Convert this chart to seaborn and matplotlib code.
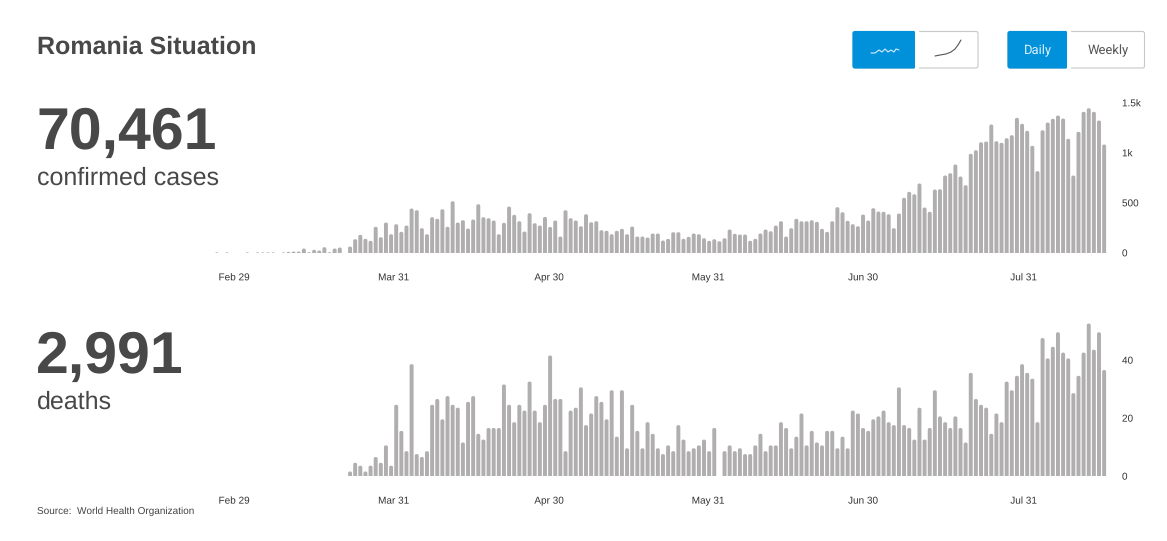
import numpy as np
import pandas as pd
import matplotlib
matplotlib.use('Agg')
import matplotlib.pyplot as plt
import matplotlib.patheffects as pe
from matplotlib.patches import FancyBboxPatch, Rectangle
import seaborn as sns

nan = float('nan')

# casos diarios, desde Feb 26
confirmed_cases = [1, nan, 1, nan, nan, nan, 1, nan, 1, 1, 1, 1, nan, 1, 7, 10, 10, 40, 3, 27, 20, 53, 3, 40, 50, nan,
                   60, 133, 177, 137, 117, 257, 153, 300, 183, 283, 207, 270, 440, 423, 243, 183, 353, 337,
                   433, 257, 513, 300, 323, 240, 330, 483, 353, 343, 320, 183, 297, 460, 377, 313, 210, 393,
                   293, 270, 356, 256, 320, 160, 423, 343, 320, 263, 383, 303, 313, 223, 217, 183, 217, 237,
                   183, 260, 160, 160, 150, 190, 190, 120, 137, 203, 203, 137, 157, 190, 183, 143, 117, 133,
                   113, 143, 230, 187, 180, 180, 117, 137, 190, 230, 213, 270, 313, 160, 243, 337, 313, 313,
                   323, 307, 237, 207, 313, 453, 403, 317, 283, 263,
                   380, 320, 443, 410, 407, 383, 243, 390, 547, 607, 583, 690, 450, 407, 630, 633, 770, 793,
                   880, 760, 673, 987, 1023, 1103, 1110, 1280, 1113, 1097, 1143, 1173, 1347, 1287, 1217, 1067,
                   813, 1223, 1300, 1337, 1370, 1340, 1137, 770, 1207, 1407, 1443, 1407, 1320, 1080]

deaths = [nan] * 26 + [2, 5, 4, 2, 4, 7, 5, 11, 4, 25, 16, 9, 39, 8, 7, 9, 25, 27, 20, 28, 25, 24, 12, 26, 28,
                       15, 13, 17, 17, 17, 32, 25, 19, 25, 23, 33, 23, 19, 25, 42, 27, 27, 9, 23, 24, 31, 18,
                       22, 28, 26, 20,
                       30, 14, 30, 10, 25, 16, 10, 19, 15, 10, 8, 11, 9, 18, 13, 9, 10, 11, 13, 9, 17, nan,
                       9, 11, 9, 10, 8, 8, 11, 15, 9, 11, 11, 19, 17, 10, 14, 22, 11, 16, 12, 11, 16, 16, 10,
                       14, 10, 23, 22,
                       17, 16, 20, 21, 23, 19, 18, 31, 18, 17, 13, 24, 13, 17, 30, 21, 19, 17, 21, 17, 12, 36,
                       27, 25, 24, 15, 22, 19, 33, 30, 35, 39, 36, 34, 19, 48, 41, 45, 50, 43, 41, 29, 35, 43,
                       53, 44, 50, 37]

date_labels = ['Feb 29', 'Mar 31', 'Apr 30', 'May 31', 'Jun 30', 'Jul 31']
date_ticks = [3.4, 34.5, 64.8, 95.8, 126, 157.3]

cases_ticks = [0, 500, 1000, 1500]
cases_tick_labels = ['0', '500', '1k', '1.5k']
deaths_ticks = [0, 20, 40]
deaths_tick_labels = ['0', '20', '40']

wave_x = [871, 875, 879, 882, 885, 888, 891, 894, 896, 899]
wave_y = [53, 53, 50, 52, 49, 52, 50, 52, 49, 50]
curve_x = [935, 940, 946, 951, 955, 958, 961]
curve_y = [56, 55, 54, 52, 49, 45, 40]

W, H = 1167, 541
BAR = '#b0aeae'
DARK = '#484848'
BLUE = '#0091da'

sns.set_theme(style='white')
plt.rcParams['font.family'] = ['Liberation Sans', 'DejaVu Sans']
plt.rcParams['text.hinting'] = 'no_hinting'
plt.rcParams['text.hinting_factor'] = 1

fig = plt.figure(figsize=(W / 100, H / 100), dpi=100, facecolor='white')


def px_axes(left, right, top, bottom):
    return fig.add_axes([left / W, 1 - bottom / H, (right - left) / W, (bottom - top) / H])


def bars(ax, values, ymax, floor, ticks, tick_labels):
    df = pd.DataFrame({'day': np.arange(len(values)), 'value': values})
    sns.barplot(data=df, x='day', y='value', color=BAR, saturation=1, width=0.2, ax=ax)
    for p in ax.patches:
        p.set_edgecolor(BAR)
        p.set_linewidth(2.1)
        p.set_joinstyle('round')
        p.set_snap(False)
    ax.set_xlim(-0.5, len(values) - 0.5)
    # los topes redondeados suben la barra, floor lo compensa
    ax.set_ylim(floor, ymax + floor)
    ax.set_xticks(date_ticks, date_labels)
    ax.set_yticks([])
    ax.set_xlabel('')
    ax.set_ylabel('')
    ax.patch.set_alpha(0)
    ax.tick_params(axis='x', length=0, pad=19.9, labelsize=7.2, labelcolor='#333333')
    for lbl in ax.get_xticklabels():
        lbl.set_verticalalignment('baseline')
        lbl.set_path_effects([pe.Normal()])  # como trazo, asi no saltan en vertical
    sns.despine(ax=ax, left=True, bottom=True, right=True, top=True)

    tw = ax.twinx()
    tw.set_ylim(0, ymax)
    tw.set_yticks(ticks, tick_labels)
    tw.grid(False)
    tw.tick_params(axis='y', length=0, pad=11, labelsize=7.2, labelcolor='#333333')
    for lbl in tw.get_yticklabels():
        lbl.set_path_effects([pe.Normal()])
    sns.despine(ax=tw, left=True, bottom=True, right=True, top=True)


ax1 = px_axes(214.1, 1106.7, 102.7, 252.7)
bars(ax1, confirmed_cases, 1500, 13, cases_ticks, cases_tick_labels)
ax2 = px_axes(214.1, 1106.7, 317, 476)
bars(ax2, deaths, 54.83, 0.95, deaths_ticks, deaths_tick_labels)

# capa en pixeles para textos y botones
ov = fig.add_axes([0, 0, 1, 1])
ov.set_xlim(0, W)
ov.set_ylim(H, 0)
ov.axis('off')
ov.patch.set_alpha(0)

ov.text(37, 47, 'Romania Situation', fontsize=17.8, fontweight='bold', color=DARK, va='center')
ov.text(36.3, 133.5, '70,461', fontsize=42.4, fontweight='bold', color=DARK, va='center')
ov.text(37, 178.5, 'confirmed cases', fontsize=17.8, color=DARK, va='center')
ov.text(36.3, 357.5, '2,991', fontsize=42.4, fontweight='bold', color=DARK, va='center')
ov.text(37, 402.5, 'deaths', fontsize=17.8, color=DARK, va='center')
ov.text(37, 511, 'Source:  World Health Organization', fontsize=6.95, color='#444444', va='center')


def button(x0, x1, fill, edge):
    ov.add_patch(FancyBboxPatch((x0 + 2, 33.5), x1 - x0 - 4, 32.5, boxstyle='round,pad=2',
                                facecolor=fill, edgecolor=edge, linewidth=0.8))


button(853, 978, 'white', '#c8c8c8')
button(1008, 1144.5, 'white', '#c8c8c8')
button(853, 915, BLUE, BLUE)
button(1008, 1067, BLUE, BLUE)
ov.add_patch(Rectangle((905, 31.5), 10, 36.5, facecolor=BLUE, edgecolor='none'))
ov.add_patch(Rectangle((1057, 31.5), 10, 36.5, facecolor=BLUE, edgecolor='none'))
ov.add_patch(Rectangle((915, 30), 4, 39.5, facecolor='white', edgecolor='none'))
ov.add_patch(Rectangle((1067, 30), 4, 39.5, facecolor='white', edgecolor='none'))

ov.plot(wave_x, wave_y, color='#d8eefa', lw=0.8)
ov.plot(curve_x, curve_y, color='#555555', lw=0.8)
ov.text(1037.5, 50.5, 'Daily', fontsize=9, family='Roboto', color='#d8eefa', ha='center', va='center')
ov.text(1108, 50.5, 'Weekly', fontsize=9, family='Roboto', color='#555555', ha='center', va='center')

fig.savefig('out.png', dpi=100)
